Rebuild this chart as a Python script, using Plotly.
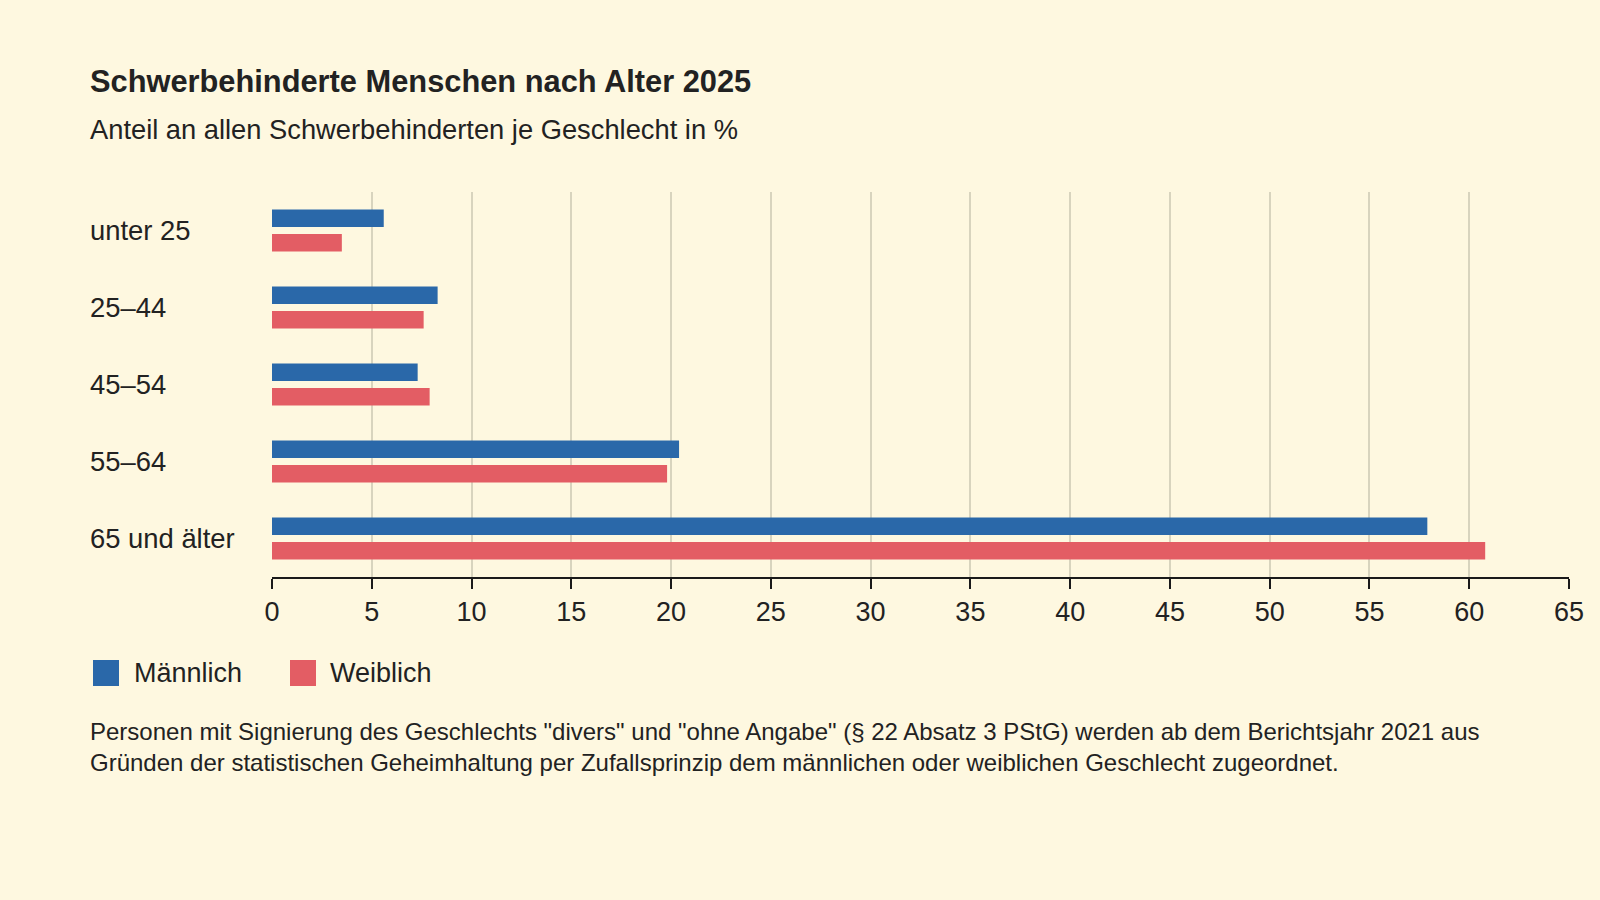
import plotly.graph_objects as go

# data
age_groups = ["unter 25", "25–44", "45–54", "55–64", "65 und älter"]
maennlich = [5.6, 8.3, 7.3, 20.4, 57.9]
weiblich = [3.5, 7.6, 7.9, 19.8, 60.8]
series_names = ["Männlich", "Weiblich"]
x_ticks = list(range(0, 70, 5))

colors = ["#2A68A9", "#E35D64"]
bg = "#FEF8E0"
font_family = "Liberation Sans, Arial, sans-serif"

W, H = 1600, 900
L, R, T, B = 272, 31, 192, 323
plot_w = W - L - R
plot_h = H - T - B


def px_x(p):
    # pixel -> paper x
    return (p - L) / plot_w


def px_y(p):
    # pixel -> paper y
    return (H - B - p) / plot_h


fig = go.Figure()

for name, vals, col in zip(series_names, [maennlich, weiblich], colors):
    fig.add_trace(go.Bar(
        y=age_groups,
        x=vals,
        name=name,
        orientation="h",
        marker=dict(color=col, line=dict(width=0)),
        showlegend=False,
    ))

# category labels, left aligned
for g in age_groups:
    fig.add_annotation(
        x=px_x(88), xref="paper", y=g, yref="y",
        text=g, showarrow=False, xanchor="left", yanchor="middle",
        font=dict(size=27.4, color="#222222", family=font_family),
    )

# custom legend with big squares
legend_pos = [(93, 132), (290, 328)]
for (sx, tx), name, col in zip(legend_pos, series_names, colors):
    fig.add_shape(
        type="rect", xref="paper", yref="paper",
        x0=px_x(sx), x1=px_x(sx + 26), y0=px_y(686), y1=px_y(660),
        fillcolor=col, line=dict(width=0),
    )
    fig.add_annotation(
        x=px_x(tx), xref="paper", y=px_y(673), yref="paper",
        text=name, showarrow=False, xanchor="left", yanchor="middle",
        font=dict(size=27, color="#222222", family=font_family),
    )

# subtitle
fig.add_annotation(
    x=px_x(88), xref="paper", y=px_y(129), yref="paper",
    text="Anteil an allen Schwerbehinderten je Geschlecht in %",
    showarrow=False, xanchor="left", yanchor="middle",
    font=dict(size=27.3, color="#222222", family=font_family),
)

# footnote
fig.add_annotation(
    x=px_x(88), xref="paper", y=px_y(747), yref="paper",
    text=('Personen mit Signierung des Geschlechts "divers" und "ohne Angabe" (§ 22 Absatz 3 PStG) '
          'werden ab dem Berichtsjahr 2021 aus<br>'
          'Gründen der statistischen Geheimhaltung per Zufallsprinzip dem männlichen oder '
          'weiblichen Geschlecht zugeordnet.'),
    showarrow=False, xanchor="left", yanchor="middle", align="left",
    font=dict(size=24, color="#222222", family=font_family),
)

fig.update_layout(
    width=W, height=H,
    margin=dict(l=L, r=R, t=T, b=B),
    paper_bgcolor=bg, plot_bgcolor=bg,
    barmode="group", bargap=0.36, bargroupgap=0.29,
    title=dict(
        text="<b>Schwerbehinderte Menschen nach Alter 2025</b>",
        x=90 / W, xref="container", xanchor="left",
        y=1 - 81 / H, yref="container", yanchor="middle",
        font=dict(size=30.8, color="#222222", family=font_family),
    ),
    font=dict(family=font_family, color="#222222"),
)

fig.update_xaxes(
    range=[0, 65], tickvals=x_ticks, ticktext=[str(t) for t in x_ticks],
    showgrid=True, gridcolor="#D8D4BE", gridwidth=1.5,
    zeroline=False,
    showline=True, linecolor="#1A1A1A", linewidth=2,
    ticks="outside", ticklen=10, tickwidth=2, tickcolor="#1A1A1A",
    tickfont=dict(size=27, color="#222222", family=font_family),
    fixedrange=True,
)
fig.update_yaxes(
    categoryorder="array", categoryarray=age_groups, autorange="reversed",
    showticklabels=False, showgrid=False, zeroline=False, showline=False,
    fixedrange=True,
)

fig.write_html("out.html", config={"displayModeBar": False},
               post_script="document.body.style.margin='0';")
